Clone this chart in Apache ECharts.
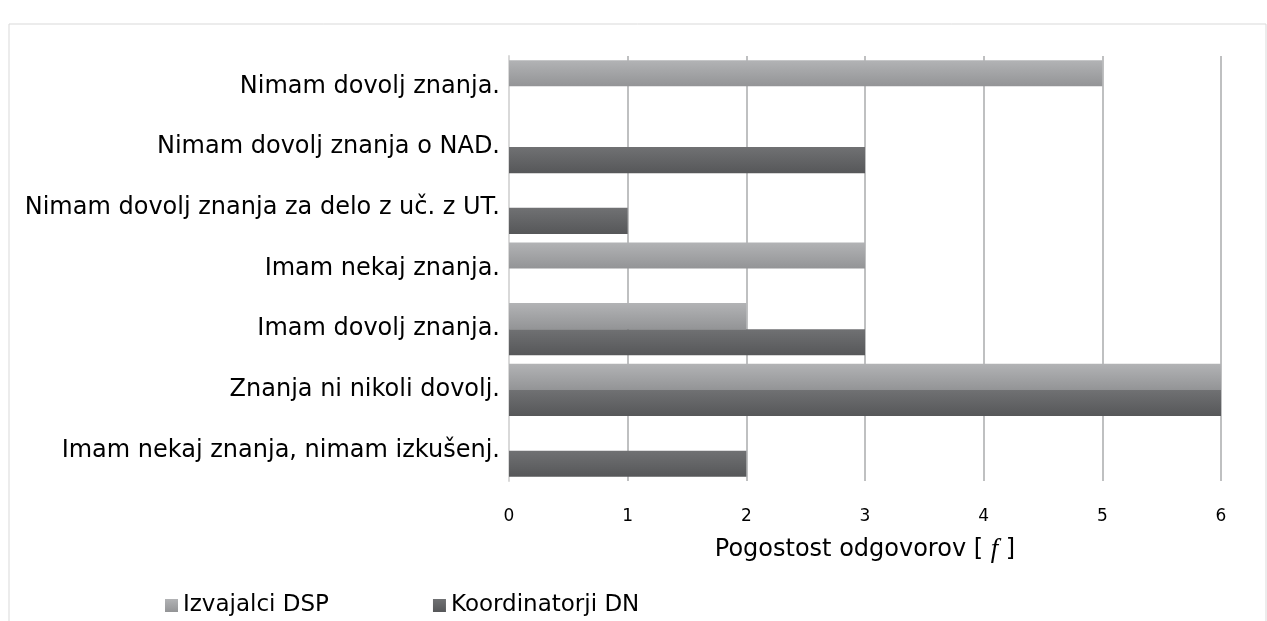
<!DOCTYPE html>
<html>
<head>
<meta charset="utf-8">
<script src="https://cdn.jsdelivr.net/npm/echarts@6/dist/echarts.min.js"></script>
<style>
  html, body { margin:0; padding:0; background:#fff; }
  #chart { width:1267px; height:621px; }
</style>
</head>
<body>
<div id="chart"></div>
<script>
  // kategorije od zgoraj navzdol
  var categories = [
    'Nimam dovolj znanja.',
    'Nimam dovolj znanja o NAD.',
    'Nimam dovolj znanja za delo z uč. z UT.',
    'Imam nekaj znanja.',
    'Imam dovolj znanja.',
    'Znanja ni nikoli dovolj.',
    'Imam nekaj znanja, nimam izkušenj.'
  ];
  var izvajalciDSP = [5, 0, 0, 3, 2, 6, 0];
  var koordinatorjiDN = [0, 3, 1, 0, 3, 6, 2];
  var xTicks = [0, 1, 2, 3, 4, 5, 6];

  var font = '"DejaVu Sans", sans-serif';

  function grad(top, bottom) {
    return new echarts.graphic.LinearGradient(0, 0, 0, 1, [
      { offset: 0, color: top },
      { offset: 1, color: bottom }
    ]);
  }

  var myChart = echarts.init(document.getElementById('chart'));
  var option = {
    animation: false,
    graphic: [{
      type: 'rect',
      shape: { x: 9, y: 24, width: 1257, height: 620 },
      style: { fill: 'none', stroke: '#d9d9d9', lineWidth: 1 },
      silent: true
    }],
    grid: {
      top: 56,
      left: 509,
      right: 46,
      bottom: 140
    },
    legend: {
      left: 160,
      top: 589,
      itemWidth: 13,
      itemHeight: 13,
      itemGap: 104,
      itemStyle: { borderWidth: 0 },
      icon: 'rect',
      textStyle: { fontFamily: font, fontSize: 23, color: '#000' },
      data: ['Izvajalci DSP', 'Koordinatorji DN']
    },
    xAxis: {
      type: 'value',
      min: 0,
      max: 6,
      interval: 1,
      name: '{a|Pogostost odgovorov [ }{i|f}{a| ]}',
      nameLocation: 'middle',
      nameGap: 55,
      nameTextStyle: {
        rich: {
          a: { fontFamily: font, fontSize: 24, color: '#000' },
          i: { fontFamily: 'serif', fontStyle: 'italic', fontSize: 27, color: '#000' }
        }
      },
      axisLine: { show: false },
      axisTick: { show: false },
      axisLabel: {
        margin: 27,
        fontFamily: font,
        fontSize: 17,
        color: '#000',
        formatter: function (v) { return xTicks.indexOf(v) >= 0 ? String(v) : ''; }
      },
      splitLine: {
        show: true,
        lineStyle: { color: '#bfc0c1', width: 2 }
      }
    },
    yAxis: {
      type: 'category',
      inverse: true,
      data: categories,
      axisLine: { show: true, lineStyle: { color: '#d9d9d9', width: 2 } },
      axisTick: { show: false },
      axisLabel: {
        margin: 9,
        fontFamily: font,
        fontSize: 24,
        color: '#000',
        padding: [3, 0, 0, 0]
      }
    },
    series: [{
      name: 'Izvajalci DSP',
      type: 'bar',
      data: izvajalciDSP,
      barGap: '0%',
      barCategoryGap: '14%',
      itemStyle: { color: grad('#b2b3b5', '#939496') }
    }, {
      name: 'Koordinatorji DN',
      type: 'bar',
      data: koordinatorjiDN,
      barGap: '0%',
      barCategoryGap: '14%',
      itemStyle: { color: grad('#707173', '#565759') }
    }]
  };
  myChart.setOption(option, true);
</script>
</body>
</html>
